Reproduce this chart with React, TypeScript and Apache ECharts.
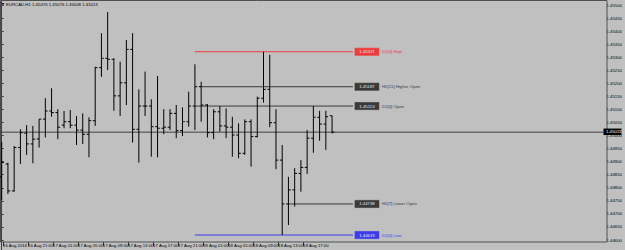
import React, { useEffect, useRef } from "react";
import * as echarts from "echarts";

const symbol = "EURCAD,H1";
const xTickLabels = [
  "16 Aug 2016", "16 Aug 21:00", "17 Aug 01:00", "17 Aug 05:00", "17 Aug 09:00",
  "17 Aug 13:00", "17 Aug 17:00", "17 Aug 21:00", "18 Aug 01:00", "18 Aug 05:00",
  "18 Aug 09:00", "18 Aug 13:00", "18 Aug 17:00", "18 Aug 21:00",
];
const xTickEvery = 4;
const yTicks = [
  1.446, 1.4465, 1.447, 1.4475, 1.448, 1.4485, 1.449, 1.4495, 1.45, 1.4505,
  1.451, 1.4515, 1.452, 1.4525, 1.453, 1.4535, 1.454, 1.4545, 1.455,
];

const opens = [
  1.44842, 1.44891, 1.44788, 1.44954, 1.45009, 1.44968, 1.44987, 1.45063, 1.45094, 1.45088,
  1.4504, 1.45053, 1.4504, 1.45021, 1.45005, 1.45057, 1.4526, 1.45296, 1.45292, 1.45152,
  1.45202, 1.4533, 1.45024, 1.45113, 1.45113, 1.45034, 1.45028, 1.45032, 1.45085, 1.45019,
  1.45053, 1.45113, 1.45187, 1.45117, 1.45011, 1.45091, 1.45037, 1.45032, 1.45002, 1.44932,
  1.45053, 1.44996, 1.45143, 1.45177, 1.45049, 1.44906, 1.44738, 1.44792, 1.44855, 1.44878,
  1.4499, 1.4507, 1.45044, 1.45076,
];
const highs = [
  1.44976, 1.44896, 1.4496, 1.45024, 1.4504, 1.45037, 1.45063, 1.45143, 1.45181, 1.45101,
  1.45094, 1.45098, 1.45075, 1.45085, 1.4507, 1.45264, 1.45392, 1.45473, 1.45296, 1.45283,
  1.45366, 1.45392, 1.45177, 1.45245, 1.45139, 1.45228, 1.45101, 1.45101, 1.45117, 1.45108,
  1.45168, 1.45273, 1.45206, 1.45121, 1.45101, 1.45113, 1.45104, 1.45072, 1.45047, 1.45062,
  1.45062, 1.45149, 1.45321, 1.45309, 1.45101, 1.44964, 1.44842, 1.44875, 1.44906, 1.45021,
  1.45113, 1.45095, 1.45095, 1.45076,
];
const lows = [
  1.44753, 1.44776, 1.44785, 1.44891, 1.44926, 1.44894, 1.44954, 1.44993, 1.45072, 1.44986,
  1.45028, 1.45028, 1.44964, 1.44968, 1.44917, 1.45037, 1.45225, 1.45251, 1.45095, 1.45075,
  1.45117, 1.44973, 1.44896, 1.45075, 1.44919, 1.44917, 1.45005, 1.45021, 1.4499, 1.44998,
  1.45034, 1.45021, 1.45053, 1.44993, 1.44986, 1.45015, 1.4499, 1.44919, 1.44913, 1.44926,
  1.44881, 1.44993, 1.45126, 1.45032, 1.44871, 1.44619, 1.44657, 1.44728, 1.44785, 1.44853,
  1.44934, 1.4498, 1.44945, 1.45008,
];
const closes = [
  1.44897, 1.44788, 1.44954, 1.45011, 1.44968, 1.44986, 1.45063, 1.45094, 1.45088, 1.45032,
  1.45053, 1.4504, 1.45021, 1.45005, 1.45057, 1.4526, 1.45296, 1.45292, 1.45152, 1.45202,
  1.4533, 1.45024, 1.45113, 1.45113, 1.45034, 1.45028, 1.45032, 1.45085, 1.45019, 1.45053,
  1.45113, 1.45187, 1.45117, 1.45011, 1.45091, 1.45037, 1.45032, 1.45002, 1.44932, 1.45053,
  1.44996, 1.45143, 1.45177, 1.45049, 1.44906, 1.44738, 1.44792, 1.44855, 1.44878, 1.4499,
  1.4507, 1.45044, 1.45072, 1.45013,
];

// first bar of the current day (18 Aug 00:00)
const dayStart = 31;
const levelNames = ["D1[0] High", "H1[21] Higher Open", "D1[0] Open", "H1[7] Lower Open", "D1[0] Low"];
const levelColors = ["#ee3c3c", "#3a3a3a", "#3a3a3a", "#3a3a3a", "#3c3cee"];

const FONT = "Liberation Sans, Arial, sans-serif";
const FS = 4.3;

export default function App() {
  const ref = useRef<HTMLDivElement>(null);
  useEffect(() => {
    if (!ref.current) return;
    const chart = echarts.init(ref.current, undefined, { renderer: "svg" });
    const last = closes.length - 1;
    const bars = opens.map((o, i) => [i, o, highs[i], lows[i], closes[i]]);
    const dayHighs = highs.slice(dayStart);
    const dayLows = lows.slice(dayStart);
    const levelValues = [
      Math.max(...dayHighs),
      opens[last - 21],
      opens[dayStart],
      opens[last - 7],
      Math.min(...dayLows),
    ];
    const levelStarts = [dayStart, last - 21, dayStart, last - 7, dayStart];
    const lineEnd = 56.35;
    const levelData = levelValues.map((v, i) => [levelStarts[i], v, lineEnd, i]);

    // vertical layout: top tick at y=5, bottom tick at y=240, grid covers 0..250
    const yLo = yTicks[0];
    const yHi = yTicks[yTicks.length - 1];
    const perPx = (yHi - yLo) / 235;
    const yMax = yHi + 5 * perPx;
    const yMin = yLo - 10 * perPx;

    const left = 1.7;
    const barW = 6.27;
    const right0 = 18;
    const xMax = (625 - right0 - left) / barW;
    const slots = 97;
    const slotLabels = Array.from({ length: slots }, (_, i) =>
      i % xTickEvery === 0 && i / xTickEvery < xTickLabels.length ? xTickLabels[i / xTickEvery] : ""
    );
    const right1 = 625 - (left + (slots - 1) * barW);

    const title = `${symbol} ${opens[last].toFixed(5)} ${highs[last].toFixed(5)} ${lows[last].toFixed(5)} ${closes[last].toFixed(5)}`;

    chart.setOption({
      animation: false,
      backgroundColor: "#c0c0c0",
      textStyle: { fontFamily: FONT },
      grid: [
        { left, right: right0, top: 0, bottom: 0 },
        { left, right: right1, top: 241, height: 1 },
      ],
      xAxis: [
        { type: "value", gridIndex: 0, min: 0, max: xMax, show: false },
        {
          type: "category",
          gridIndex: 1,
          data: slotLabels,
          boundaryGap: false,
          axisLine: { show: false },
          axisTick: {
            show: true,
            length: 4,
            interval: (i: number) => slotLabels[i] !== "",
            lineStyle: { color: "#303030", width: 1 },
          },
          axisLabel: {
            interval: (i: number) => slotLabels[i] !== "",
            fontSize: FS,
            color: "#000",
            align: "left",
            margin: 1.5,
            fontFamily: FONT,
          },
          splitLine: { show: false },
        },
      ],
      yAxis: [
        {
          type: "value",
          gridIndex: 0,
          position: "right",
          min: yMin,
          max: yMax,
          axisLine: { show: true, lineStyle: { color: "#404040", width: 1 } },
          axisTick: { show: true, length: 2, customValues: yTicks, lineStyle: { color: "#404040" } },
          axisLabel: {
            customValues: yTicks,
            fontSize: FS,
            color: "#000",
            margin: 3,
            fontFamily: FONT,
            formatter: (v: number) => v.toFixed(5),
          },
          splitLine: { show: false },
        },
        { type: "value", gridIndex: 1, show: false },
      ],
      graphic: [
        {
          type: "rect",
          shape: { x: 0.5, y: 0.5, width: 606.5, height: 241.5 },
          style: { fill: "none", stroke: "#505050", lineWidth: 1 },
          z: 1,
        },
        {
          type: "polygon",
          shape: { points: [[1.5, 3], [4.5, 3], [3, 5.5]] },
          style: { fill: "#202020" },
        },
        {
          type: "text",
          x: 6,
          y: 2,
          style: { text: title, fontSize: FS, fill: "#000", fontFamily: FONT },
        },
      ],
      series: [
        {
          type: "custom",
          name: "price",
          xAxisIndex: 0,
          yAxisIndex: 0,
          z: 3,
          clip: false,
          data: [[last, closes[last]]],
          encode: { x: 0, y: 1 },
          renderItem: (params: any, api: any) => {
            const p = api.coord([api.value(0), api.value(1)]);
            const cs = params.coordSys;
            const xr = cs.x + cs.width;
            return {
              type: "group",
              children: [
                {
                  type: "line",
                  shape: { x1: 0, y1: p[1], x2: xr, y2: p[1] },
                  style: { stroke: "#404040", lineWidth: 1 },
                },
                {
                  type: "rect",
                  shape: { x: xr, y: p[1] - 3.6, width: 18, height: 6.4 },
                  style: { fill: "#000" },
                  z2: 20,
                },
                {
                  type: "text",
                  x: xr + 2.5,
                  y: p[1] - 0.4,
                  style: {
                    text: api.value(1).toFixed(5),
                    fill: "#fff",
                    fontSize: FS,
                    fontFamily: FONT,
                    verticalAlign: "middle",
                  },
                  z2: 21,
                },
              ],
            };
          },
        },
        {
          type: "custom",
          name: "levels",
          xAxisIndex: 0,
          yAxisIndex: 0,
          z: 4,
          clip: false,
          data: levelData,
          encode: { x: [0, 2], y: 1 },
          renderItem: (params: any, api: any) => {
            const v = api.value(1);
            const s = api.coord([api.value(0), v]);
            const e = api.coord([api.value(2), v]);
            const i = api.value(3);
            const c = levelColors[i];
            return {
              type: "group",
              children: [
                {
                  type: "line",
                  shape: { x1: s[0], y1: s[1], x2: e[0], y2: e[1] },
                  style: { stroke: c, lineWidth: 1 },
                },
                {
                  type: "rect",
                  shape: { x: e[0] + 2, y: e[1] - 3.6, width: 24, height: 7.2 },
                  style: { fill: c, stroke: c, lineWidth: 0.6 },
                },
                {
                  type: "text",
                  x: e[0] + 14,
                  y: e[1],
                  style: {
                    text: v.toFixed(5),
                    fill: "#e8e8e8",
                    fontSize: FS,
                    fontFamily: FONT,
                    align: "center",
                    verticalAlign: "middle",
                  },
                },
                {
                  type: "text",
                  x: e[0] + 29,
                  y: e[1],
                  style: {
                    text: levelNames[i],
                    fill: c,
                    fontSize: FS,
                    fontFamily: FONT,
                    verticalAlign: "middle",
                  },
                },
              ],
            };
          },
        },
        {
          type: "custom",
          name: "bars",
          xAxisIndex: 0,
          yAxisIndex: 0,
          z: 5,
          clip: false,
          data: bars,
          encode: { x: 0, y: [1, 2, 3, 4] },
          renderItem: (params: any, api: any) => {
            const x = api.value(0);
            const pO = api.coord([x, api.value(1)]);
            const pH = api.coord([x, api.value(2)]);
            const pL = api.coord([x, api.value(3)]);
            const pC = api.coord([x, api.value(4)]);
            const style = { stroke: "#000", lineWidth: 1 };
            return {
              type: "group",
              children: [
                { type: "line", shape: { x1: pH[0], y1: pH[1], x2: pL[0], y2: pL[1] }, style },
                { type: "line", shape: { x1: pO[0] - 2.3, y1: pO[1], x2: pO[0], y2: pO[1] }, style },
                { type: "line", shape: { x1: pC[0], y1: pC[1], x2: pC[0] + 2.3, y2: pC[1] }, style },
              ],
            };
          },
        },
      ],
    });
    return () => chart.dispose();
  }, []);
  return (
    <div
      ref={ref}
      style={{ position: "absolute", left: 0, top: 0, width: 625, height: 250 }}
    />
  );
}
